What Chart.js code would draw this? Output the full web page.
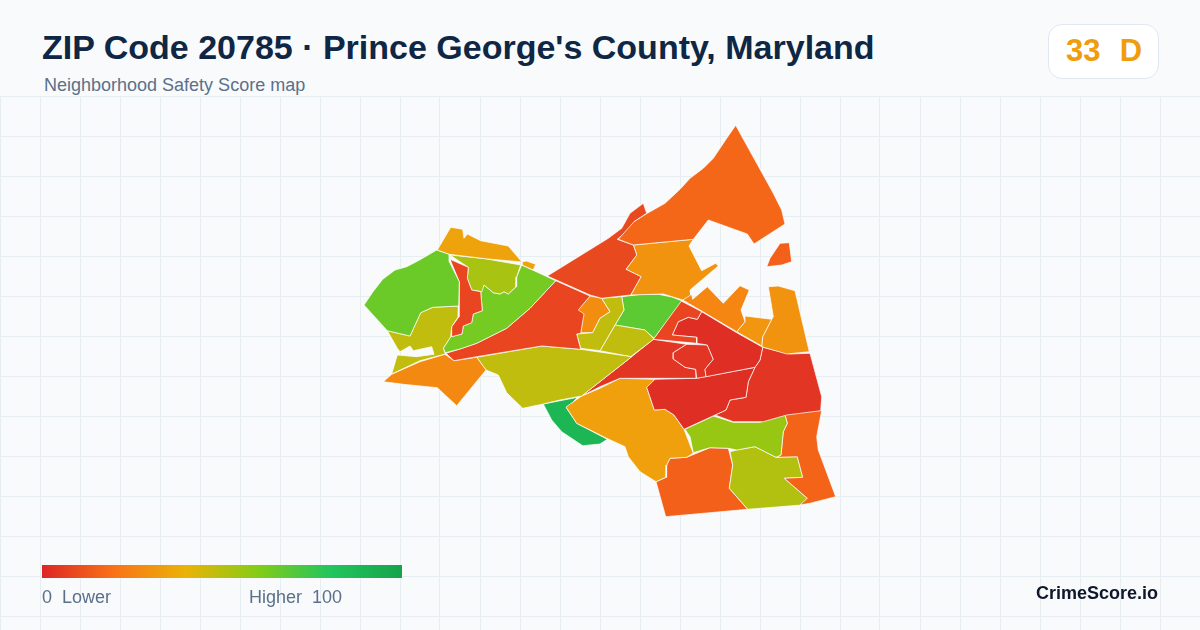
<!DOCTYPE html>
<html>
<head>
<meta charset="utf-8">
<title>ZIP Code 20785</title>
<script src="https://cdn.jsdelivr.net/npm/chart.js@4"></script>
<style>
    html, body { margin: 0; padding: 0; }
    body { width: 1200px; height: 630px; position: relative; overflow: hidden; background: #f8fafc; font-family: "Liberation Sans", Arial, sans-serif; }
    .chart-wrap { position: absolute; left: 0; top: 96px; width: 1200px; height: 534px; }
    .label { position: absolute; white-space: pre; line-height: 1; }
    #title { left: 42px; top: 30px; font-size: 34px; font-weight: 700; color: #0f2744; }
    #subtitle { left: 44px; top: 76px; font-size: 18px; color: #5b7089; }
    #badge { position: absolute; left: 1048px; top: 24px; width: 109px; height: 53px; background: #fff; border: 1px solid #e2e8f0; border-radius: 14px; }
    #score { left: 1066px; top: 35px; font-size: 31px; font-weight: 700; word-spacing: 1px; }
    #legendBar { position: absolute; left: 42px; top: 565px; width: 360px; height: 13px; }
    #legendLow { left: 42px; top: 588px; font-size: 18px; color: #5b7089; }
    #legendHigh { left: 249px; top: 588px; font-size: 18px; color: #5b7089; }
    #brand { left: 1036px; top: 584px; font-size: 18px; font-weight: 700; color: #0f172a; }
</style>
</head>
<body>
<div class="chart-wrap"><canvas id="mapChart"></canvas></div>
<div class="label" id="title"></div>
<div class="label" id="subtitle"></div>
<div id="badge"></div>
<div class="label" id="score"></div>
<div id="legendBar"></div>
<div class="label" id="legendLow"></div>
<div class="label" id="legendHigh"></div>
<div class="label" id="brand"></div>
<script>
// Teks
const titleText = "ZIP Code 20785 · Prince George's County, Maryland";
const subtitleText = 'Neighborhood Safety Score map';
const brandText = 'CrimeScore.io';
const overallScore = 33;
const overallGrade = 'D';

// Skala warna skor
const scaleStops = [0, 20, 40, 60, 80, 100];
const scaleColors = ['#dc2626', '#f97316', '#eab308', '#84cc16', '#22c55e', '#16a34a'];

// Skor tiap wilayah
const regionScores = [35, 35, 65, 48, 8, 53, 63, 8, 27, 48, 17, 9, 30, 26, 31, 30, 15, 48, 48, 28, 68, 8, 2, 4, 4, 2, 4, 34, 89, 56, 16, 51, 15];

// Batas tiap wilayah (koordinat peta)
const regionOutlines = [
    [[437.3,250],[450.7,227.3],[462.7,229.3],[464,238.3],[467.3,234],[480.7,240.7],[508.3,246],[522,262],[485,258.7],[449.3,254.3]],
    [[522.3,261.7],[526.7,261],[535.7,264.3],[533.3,270],[522,265]],
    [[436.7,250],[449.3,254.3],[449.3,261.7],[459.3,281.7],[458.7,306],[432.7,307.3],[420.7,312.7],[410,336],[387.3,330.7],[364,305],[373,291.7],[382.7,279.3],[395,270],[406.7,266.7],[418.3,260.7]],
    [[387.3,330.7],[410,336],[420.7,312.7],[432.7,307.3],[458.7,306],[458.3,316.7],[451.7,326.7],[450.7,336.7],[443.3,348.3],[445.3,354],[420,360.7],[391.7,374],[397.3,355],[416.7,356.7],[434,354.3],[431.7,346.7],[413.3,350.7],[410,346],[400,351.7],[397.3,348.3]],
    [[450,259.3],[468.3,267.3],[467.3,278.3],[471.7,290],[480.7,291.7],[482.3,310.7],[473.3,314],[471.7,322.7],[463.3,326],[462,334],[451.7,336.7],[451.7,326.7],[459,316.7],[459.3,281.7]],
    [[450,255],[485,258.7],[520.7,265],[516.7,276.7],[516,286.7],[508.3,294],[504,291.7],[500,294],[493.3,292.7],[484,285],[482,291.7],[471.7,290],[467.3,278.3],[468.3,267.3]],
    [[521.7,265],[555.7,280.7],[530,308.3],[506.7,328.3],[476.7,343.3],[460,349],[445.3,352.7],[443.3,348.3],[450.7,336.7],[462,334],[463.3,326],[471.7,322.7],[473.3,314],[482.3,310.7],[480.7,291.7],[484,285],[493.3,292.7],[500,294],[504,291.7],[508.3,294],[516,286.7],[516.7,276.7]],
    [[555.7,280.7],[590,296],[578.3,310],[584,314],[580.7,333.3],[576.7,334],[580.7,349.3],[541.7,346],[476.7,356.7],[454,360.7],[446,353.3],[460,349],[476.7,343.3],[506.7,328.3],[530,308.3]],
    [[383.3,381.7],[391.7,374.3],[420,361.7],[445,354.3],[454,360.7],[476.7,357.3],[486,370],[456.7,405.7],[437.3,387.7],[403.3,384.3]],
    [[476.7,357.3],[541.7,346],[580.7,349.3],[631.7,356.7],[581.7,396],[560,400],[543.3,404],[522.7,408.3],[510,396],[506.7,392.7],[498.3,375],[486,370]],
    [[735.7,125.3],[773.3,193.3],[781.7,210],[785,224],[754,244],[747.3,234],[708.3,220],[693.3,239.3],[633.3,245],[618.3,239.3],[634,221.7],[647.3,213.3],[665,203.3],[680,189.3],[690,178.3],[703.3,168.3],[713.3,158.3],[726.7,138.3]],
    [[547.3,276],[608.3,238.3],[621.7,228.3],[630,213.3],[643.3,203.3],[646.7,213.3],[634,221.7],[633.3,226.7],[617.3,239.3],[633.3,245],[636.7,255],[626,269.3],[641,276.7],[630.7,295],[601.7,298.3],[590,295]],
    [[633.3,245],[693.3,239.3],[689,246],[701.7,270.7],[715.7,263.3],[718.3,266],[690,290],[690.7,295],[682.7,300],[663.3,294],[630.7,295],[641,276.7],[626,269.3],[636.7,255]],
    [[682.7,300],[690.7,291],[692.7,299.3],[707.3,286.7],[723.3,303.3],[740,285.7],[749.3,290],[741,310],[745,321.7],[736.7,331.7],[700,310]],
    [[745,316],[771.7,319.3],[762.7,336.7],[761.7,346],[736.7,331.7],[745,321.7]],
    [[768.3,286.7],[778.3,286],[795,290.7],[809.3,351.7],[786.7,354],[761.7,346.7],[762.7,336.7],[771.7,319.3],[773.3,316.7]],
    [[780,243.3],[789.3,242.7],[791.7,261.7],[781.7,265],[766.7,266.7],[770,258.3]],
    [[601.7,298.3],[621.7,296.7],[624,310],[615,325],[600,350.7],[580.7,348.3],[576.7,334],[592.7,332.7],[600,318.3],[610,311.7]],
    [[615,325],[645,330],[654,339],[630.7,356.7],[600,350.7]],
    [[590,296],[601.7,298.3],[610,311.7],[600,318.3],[592.7,332.7],[580.7,332.7],[582.7,318.3],[577.7,310]],
    [[621.7,296.7],[640,294.5],[658.3,294.3],[672,297],[681.7,300.7],[654,338.3],[645,330],[615,325],[624,310]],
    [[680.7,300.7],[701.7,311.7],[697.3,319.3],[688.3,317.3],[678.3,321.7],[672.3,335],[696.7,337.3],[696.7,343.3],[653.3,339.3]],
    [[701.7,311.7],[736.7,332.7],[762.7,347.3],[760,360],[755,367.3],[706,376.7],[705,369.3],[713.3,359.3],[707.3,345],[696.7,343.3],[696.7,337.3],[672.3,335],[678.3,321.7],[688.3,317.3],[697.3,319.3]],
    [[686.7,344.3],[707.3,345],[713.3,359.3],[705,369.3],[706,376.7],[696.7,378.3],[695.7,369.3],[685,367.3],[673.3,359],[673.3,352.7]],
    [[653.3,339.3],[686.7,344.3],[673.3,352.7],[673.3,359],[685,367.3],[695.7,369.3],[696,378.3],[620,378.3],[600,386.7],[581.7,396],[631.7,356.7]],
    [[655,379.3],[696,378.3],[755,367.3],[748.3,381.7],[746,397.3],[730,400],[726,410],[684,429.3],[674,415],[665,409.3],[654.3,410],[646.7,387.3]],
    [[762.7,347.3],[790,354],[810,353.3],[821.7,396.7],[820.7,410.7],[786.7,415],[763.3,421.7],[733.3,421.7],[715,415],[726,410],[730,400],[746,397.3],[748.3,381.7],[755,367.3],[760,360]],
    [[566,407],[581.7,396],[600,388.3],[620,378.3],[655,379.3],[646.7,387.3],[654.3,410],[665,409.3],[674,415],[684,429.3],[693.3,453.3],[686.7,457.3],[670,458.3],[666.7,465],[666,477.3],[656,481.7],[640,471.7],[628.3,456.7],[625,446.7],[606.7,438.3],[576.7,423.3]],
    [[543.3,404],[577.7,397.3],[566.7,408.3],[576.7,423.3],[607.3,439.3],[600,444],[582.7,445.7],[561.7,431.7],[551.7,420]],
    [[685,429.3],[713.3,416],[733.3,422.3],[760,422.3],[785,415],[787.3,423.3],[783.3,431.7],[781,455],[776,457.3],[755,446.7],[736.7,450],[728.3,448.3],[710,447.7],[693.3,452.7],[690,436.7]],
    [[785,415],[800,410.7],[821.7,410.7],[816.7,436.7],[818.3,450],[835.7,496.7],[810,503.3],[800,505],[807.3,498.3],[784.3,478.3],[802.7,477.3],[797.3,456.7],[776,457.3],[781,455],[783.3,431.7],[787.3,423.3]],
    [[730,451.7],[736.7,450],[755,446.7],[776,457.3],[797.3,456.7],[802.7,477.3],[784.3,478.3],[807.3,498.3],[801.7,505],[747.7,509.3],[729.3,488.3],[732.7,465]],
    [[656,481.7],[666,477.3],[666.7,465],[670,458.3],[686.7,457.3],[710,447.7],[728.3,448.3],[732.7,465],[729.3,488.3],[747.7,509.3],[665.7,516.7]]
];

// Warna dari skor, sama dengan legenda
const hexToRgb = (hex) => [1, 3, 5].map(i => parseInt(hex.slice(i, i + 2), 16));
const scoreColor = (score) => {
    let i = 0;
    while (i < scaleStops.length - 2 && score > scaleStops[i + 1]) i++;
    const t = (score - scaleStops[i]) / (scaleStops[i + 1] - scaleStops[i]);
    const a = hexToRgb(scaleColors[i]);
    const b = hexToRgb(scaleColors[i + 1]);
    return 'rgb(' + a.map((v, k) => Math.round(v + (b[k] - v) * t)).join(',') + ')';
};

// Isi teks dan legenda
document.getElementById('title').textContent = titleText;
document.getElementById('subtitle').textContent = subtitleText;
document.getElementById('brand').textContent = brandText;
document.getElementById('legendLow').textContent = scaleStops[0] + '  Lower';
document.getElementById('legendHigh').textContent = 'Higher  ' + scaleStops[scaleStops.length - 1];
const scoreEl = document.getElementById('score');
scoreEl.textContent = overallScore + '  ' + overallGrade;
scoreEl.style.color = scoreColor(overallScore);
document.getElementById('legendBar').style.background = 'linear-gradient(to right, '
    + scaleColors.map((c, i) => c + ' ' + scaleStops[i] + '%').join(', ') + ')';

// Konfigurasi chart
const config = {
    type: 'scatter',
    data: {
        datasets: regionOutlines.map((outline, i) => ({
            data: outline.concat([outline[0]]).map(p => ({ x: p[0], y: p[1] })),
            showLine: true,
            fill: 'shape',
            backgroundColor: scoreColor(regionScores[i]),
            borderColor: 'rgba(255, 255, 255, 0.9)',
            borderWidth: 0.8,
            pointRadius: 0,
            pointHoverRadius: 0,
            tension: 0
        }))
    },
    options: {
        responsive: true,
        maintainAspectRatio: false,
        animation: false,
        layout: { padding: 0 },
        plugins: {
            legend: { display: false },
            tooltip: { enabled: false }
        },
        scales: {
            x: {
                min: 0,
                max: 1200,
                border: { display: false },
                grid: { color: '#e6eef2', drawTicks: false },
                ticks: { display: false, stepSize: 40 }
            },
            y: {
                min: 96,
                max: 630,
                reverse: true,
                border: { display: false },
                grid: { color: '#e6eef2', drawTicks: false },
                ticks: { display: false },
                afterBuildTicks: (axis) => {
                    const ticks = [];
                    for (let v = 96; v <= 630; v += 40) ticks.push({ value: v });
                    axis.ticks = ticks;
                }
            }
        }
    }
};

// Inisialisasi chart
new Chart(document.getElementById('mapChart').getContext('2d'), config);
</script>
</body>
</html>
